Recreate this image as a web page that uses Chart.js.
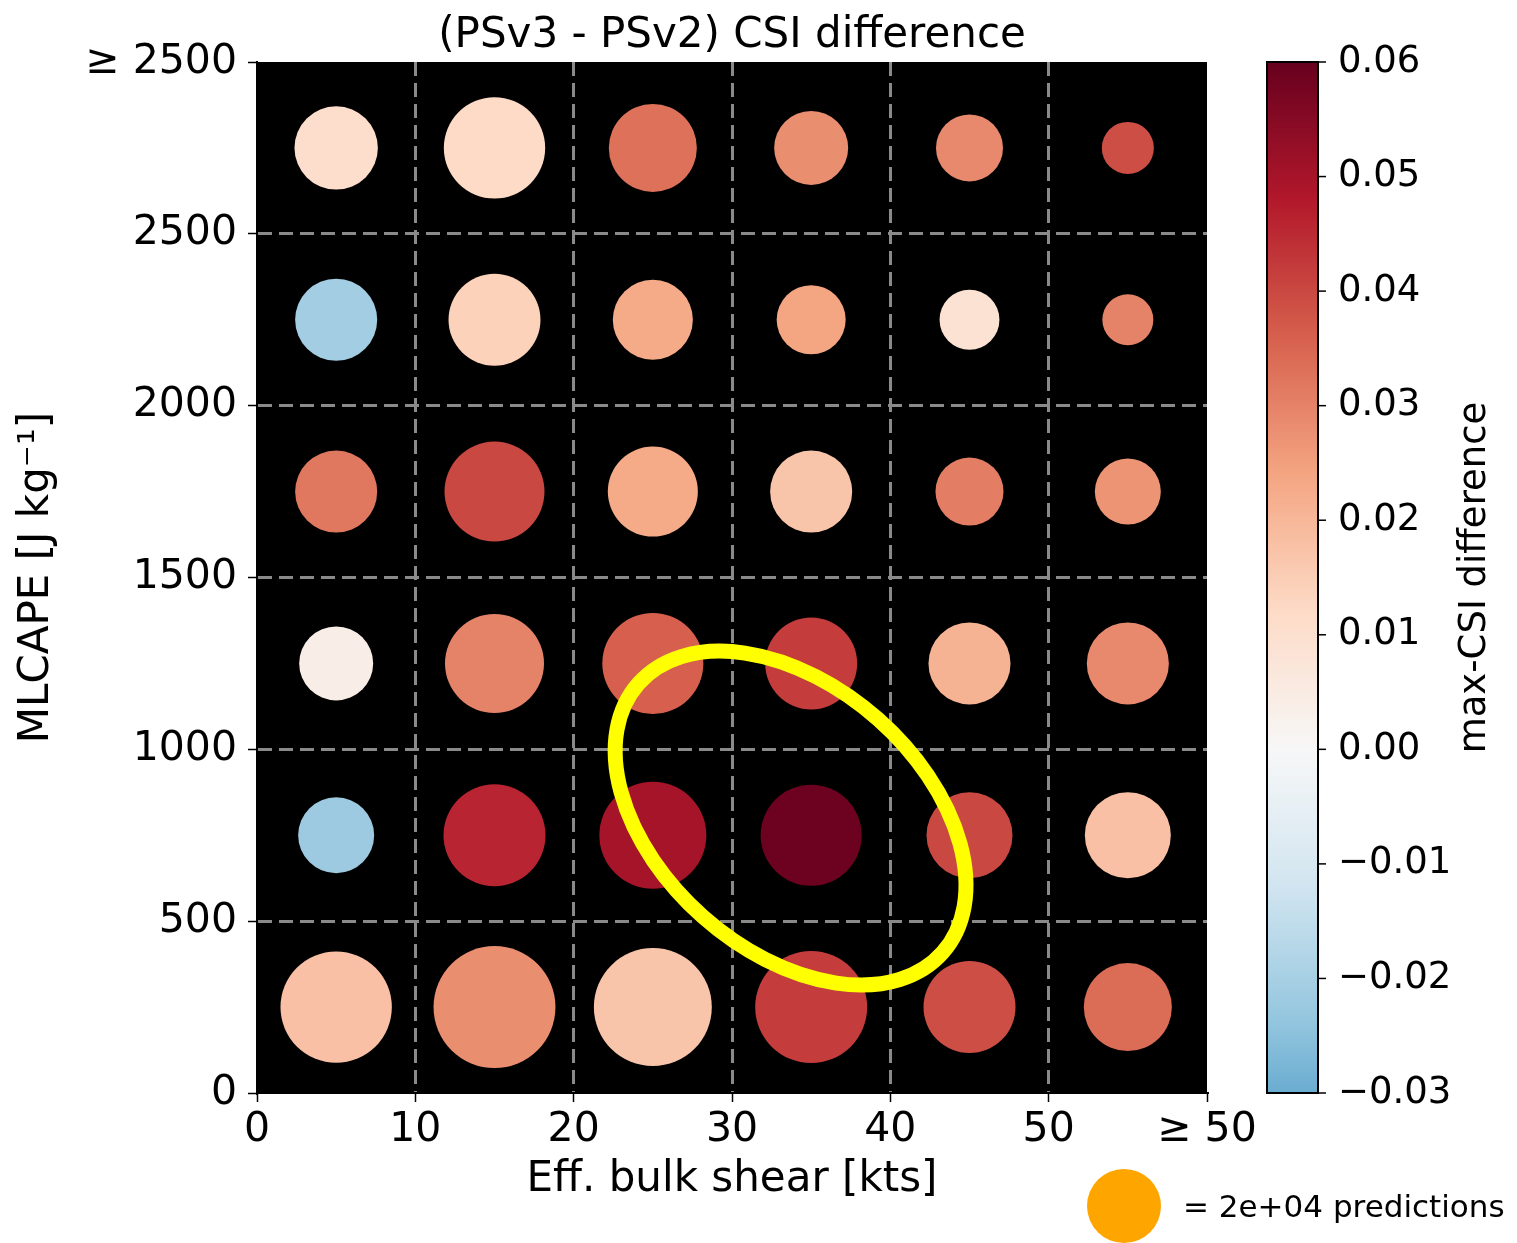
<!DOCTYPE html>
<html lang="en">
<head>
<meta charset="UTF-8">
<title>(PSv3 - PSv2) CSI difference</title>
<script src="https://cdn.jsdelivr.net/npm/chart.js@4.4.1/dist/chart.umd.min.js"></script>
<style>
  html, body { margin: 0; padding: 0; background: #fff; }
  canvas { display: block; }
</style>
</head>
<body>
<canvas id="chart" width="1517" height="1243"></canvas>
<script>
  // bin centres
  const shearBins = [5, 15, 25, 35, 45, 55];
  const capeBins = [250, 750, 1250, 1750, 2250, 2750];

  // max-CSI difference (PSv3 - PSv2), one array per CAPE row, columns follow shearBins
  const diff250  = [0.018, 0.028, 0.017, 0.042, 0.039, 0.034];
  const diff750  = [-0.022, 0.046, 0.050, 0.059, 0.040, 0.018];
  const diff1250 = [0.004, 0.030, 0.036, 0.042, 0.021, 0.029];
  const diff1750 = [0.032, 0.040, 0.023, 0.017, 0.031, 0.027];
  const diff2250 = [-0.021, 0.014, 0.023, 0.024, 0.009, 0.030];
  const diff2750 = [0.011, 0.012, 0.033, 0.028, 0.029, 0.039];

  // number of predictions in each bin (sets the bubble size)
  const count250  = [45300, 54300, 50800, 45800, 30900, 28300];
  const count750  = [21100, 38000, 41800, 37300, 27000, 27000];
  const count1250 = [20000, 35800, 37300, 30900, 24600, 24600];
  const count1750 = [24600, 36500, 29600, 24600, 16900, 15900];
  const count2250 = [24600, 30900, 23400, 17400, 13100, 9500];
  const count2750 = [25400, 37500, 28300, 20000, 16400, 9900];

  const cbTicks = [-0.03, -0.02, -0.01, 0, 0.01, 0.02, 0.03, 0.04, 0.05, 0.06];
  const refCount = 20000;

  // colormap RdBu_r, symmetric norm -0.06..0.06, colorbar shows -0.03..0.06
  const rdbuR = ['#053061', '#2166ac', '#4393c3', '#92c5de', '#d1e5f0', '#f7f7f7',
                 '#fddbc7', '#f4a582', '#d6604d', '#b2182b', '#67001f'];
  const normMin = -0.06, normMax = 0.06;
  const cbMin = -0.03, cbMax = 0.06;

  function hexRgb(h) {
    return [parseInt(h.slice(1, 3), 16), parseInt(h.slice(3, 5), 16), parseInt(h.slice(5, 7), 16)];
  }
  function cmap(v) {
    let t = (v - normMin) / (normMax - normMin);
    t = Math.max(0, Math.min(1, t)) * (rdbuR.length - 1);
    const i = Math.min(Math.floor(t), rdbuR.length - 2);
    const f = t - i;
    const a = hexRgb(rdbuR[i]), b = hexRgb(rdbuR[i + 1]);
    const c = a.map((x, k) => Math.round(x + (b[k] - x) * f));
    return `rgb(${c[0]},${c[1]},${c[2]})`;
  }
  // marker area proportional to count
  const refRadius = 37;
  function radiusFor(n) { return refRadius * Math.sqrt(n / refCount); }

  const rows = [
    { diff: diff250, count: count250 },
    { diff: diff750, count: count750 },
    { diff: diff1250, count: count1250 },
    { diff: diff1750, count: count1750 },
    { diff: diff2250, count: count2250 },
    { diff: diff2750, count: count2750 }
  ];
  const points = [];
  const colors = [];
  rows.forEach((row, i) => {
    row.diff.forEach((d, j) => {
      points.push({ x: shearBins[j], y: capeBins[i], r: radiusFor(row.count[j]) });
      colors.push(cmap(d));
    });
  });

  const FONT = 'DejaVu Sans';
  Chart.defaults.font.family = FONT;
  Chart.defaults.color = '#000';

  const edgeClear = (max) => (c) =>
    (c.tick && (c.tick.value === 0 || c.tick.value === max)) ? 'rgba(0,0,0,0)' : '#8a8a8a';

  const extras = {
    id: 'extras',
    beforeDraw(chart) {
      const { ctx, chartArea: a } = chart;
      ctx.save();
      ctx.fillStyle = '#000';
      ctx.fillRect(a.left, a.top, a.right - a.left, a.bottom - a.top);
      ctx.restore();
    },
    afterDraw(chart) {
      const { ctx, chartArea: a, scales } = chart;
      ctx.save();

      // title
      ctx.fillStyle = '#000';
      ctx.font = `42px "${FONT}"`;
      ctx.textAlign = 'center';
      ctx.textBaseline = 'alphabetic';
      ctx.fillText('(PSv3 - PSv2) CSI difference', (a.left + a.right) / 2, 47);

      // highlight ellipse
      const ex = scales.x.getPixelForValue(33.7);
      const ey = scales.y.getPixelForValue(800);
      ctx.strokeStyle = '#ffff00';
      ctx.lineWidth = 15;
      ctx.beginPath();
      ctx.ellipse(ex, ey, 203, 132, 41.5 * Math.PI / 180, 0, Math.PI * 2);
      ctx.stroke();

      // colorbar
      const cbL = 1267, cbW = 51, cbT = a.top, cbB = a.bottom;
      const cbY = v => cbB - (v - cbMin) / (cbMax - cbMin) * (cbB - cbT);
      for (let y = cbT; y < cbB; y++) {
        const v = cbMax - (y + 0.5 - cbT) / (cbB - cbT) * (cbMax - cbMin);
        ctx.fillStyle = cmap(v);
        ctx.fillRect(cbL, y, cbW, 1);
      }
      ctx.strokeStyle = '#000';
      ctx.lineWidth = 2;
      ctx.strokeRect(cbL, cbT, cbW, cbB - cbT);
      ctx.font = `37px "${FONT}"`;
      ctx.textAlign = 'left';
      ctx.textBaseline = 'middle';
      ctx.fillStyle = '#000';
      cbTicks.forEach(v => {
        const y = cbY(v);
        ctx.lineWidth = 1.5;
        ctx.beginPath();
        ctx.moveTo(cbL + cbW, y);
        ctx.lineTo(cbL + cbW + 8, y);
        ctx.stroke();
        const txt = (v < 0 ? '\u2212' : '') + Math.abs(v).toFixed(2);
        ctx.fillText(txt, cbL + cbW + 20, y);
      });
      ctx.save();
      ctx.translate(1475, (cbT + cbB) / 2);
      ctx.rotate(-Math.PI / 2);
      ctx.textAlign = 'center';
      ctx.fillText('max-CSI difference', 0, 0);
      ctx.restore();

      // size legend
      ctx.fillStyle = '#ffa500';
      ctx.beginPath();
      ctx.arc(1124, 1206, radiusFor(refCount), 0, Math.PI * 2);
      ctx.fill();
      const e = Math.floor(Math.log10(refCount));
      const mant = Math.round(refCount / Math.pow(10, e));
      ctx.fillStyle = '#000';
      ctx.font = `31px "${FONT}"`;
      ctx.textAlign = 'left';
      ctx.textBaseline = 'alphabetic';
      ctx.fillText(`= ${mant}e+${String(e).padStart(2, '0')} predictions`, 1183, 1217);

      ctx.restore();
    }
  };

  new Chart(document.getElementById('chart'), {
    type: 'bubble',
    data: {
      datasets: [{
        data: points,
        backgroundColor: colors,
        borderWidth: 0
      }]
    },
    options: {
      responsive: false,
      animation: false,
      devicePixelRatio: 1,
      events: [],
      layout: { padding: { top: 62, right: 310, left: 0, bottom: 0 } },
      plugins: {
        legend: { display: false },
        tooltip: { enabled: false }
      },
      scales: {
        x: {
          type: 'linear',
          min: 0,
          max: 60,
          afterFit: s => { s.height = 150; },
          ticks: {
            stepSize: 10,
            autoSkip: false,
            maxRotation: 0,
            padding: 4,
            color: '#000',
            font: { size: 41 },
            callback: v => v === 60 ? '\u2265 50' : String(v)
          },
          grid: {
            color: edgeClear(60),
            lineWidth: 3,
            tickColor: '#000',
            tickWidth: 1.5,
            tickLength: 9
          },
          border: { display: true, color: '#000', width: 2, dash: [14, 7] },
          title: {
            display: true,
            text: 'Eff. bulk shear [kts]',
            color: '#000',
            font: { size: 42 },
            padding: { top: 0, bottom: 38 }
          }
        },
        y: {
          type: 'linear',
          min: 0,
          max: 3000,
          afterFit: s => { s.width = 257; },
          ticks: {
            stepSize: 500,
            autoSkip: false,
            padding: 11,
            color: '#000',
            font: { size: 41 },
            callback: v => v === 3000 ? '\u2265 2500' : String(v)
          },
          grid: {
            color: edgeClear(3000),
            lineWidth: 3,
            tickColor: '#000',
            tickWidth: 1.5,
            tickLength: 9
          },
          border: { display: true, color: '#000', width: 2, dash: [14, 7] },
          title: {
            display: true,
            text: 'MLCAPE [J kg\u207B\u00B9]',
            color: '#000',
            font: { size: 42 },
            padding: { top: 12, bottom: 0 }
          }
        }
      }
    },
    plugins: [extras]
  });
</script>
</body>
</html>
